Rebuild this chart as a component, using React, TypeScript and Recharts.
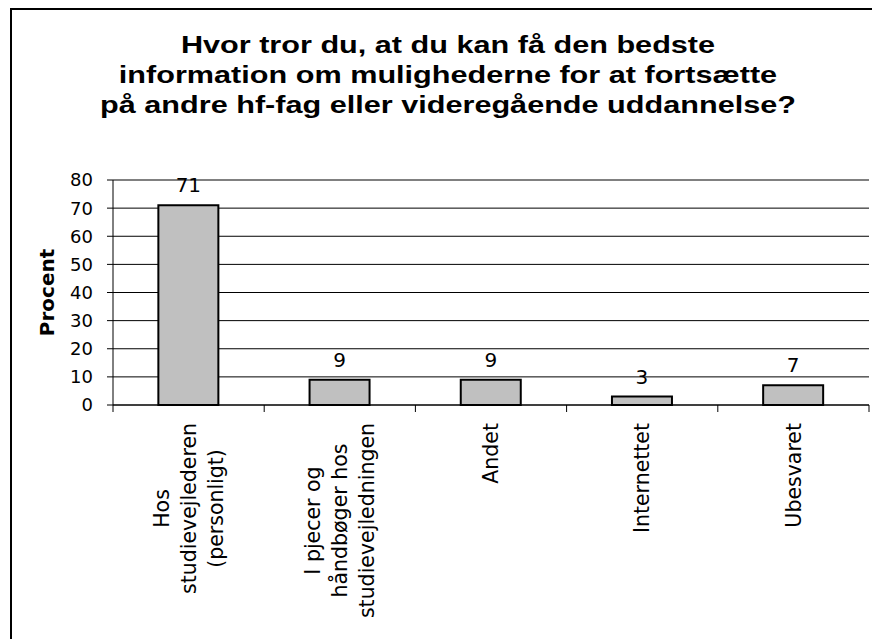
import React from 'react';
import { BarChart, Bar, XAxis, YAxis, CartesianGrid, LabelList, ReferenceLine, Label } from 'recharts';

const titleLines = [
  'Hvor tror du, at du kan få den bedste',
  'information om mulighederne for at fortsætte',
  'på andre hf-fag eller videregående uddannelse?',
];

// each category label is split into the lines it is drawn on
const categories = [
  ['Hos', 'studievejlederen', '(personligt)'],
  ['I pjecer og', 'håndbøger hos', 'studievejledningen'],
  ['Andet'],
  ['Internettet'],
  ['Ubesvaret'],
];
const percentages = [71, 9, 9, 3, 7];
const yTicks = [0, 10, 20, 30, 40, 50, 60, 70, 80];
const yLabel = 'Procent';

const data = categories.map((lines, i) => ({ name: lines.join('\n'), value: percentages[i] }));

const CHART_W = 860;
const CHART_H = 629;
const Y_AXIS_W = 101;
const MARGIN = { top: 170, right: 3, bottom: 0, left: 0 };
const PLOT_W = CHART_W - MARGIN.left - MARGIN.right - Y_AXIS_W;
const BAND = PLOT_W / categories.length;

const FONT = '"DejaVu Sans", Verdana, sans-serif';
const LABEL_SIZE = 20.5;
const LINE_GAP = 27;
const LABEL_TOP = 18;

let ctx: CanvasRenderingContext2D | null = null;
const measure = (t: string) => {
  if (!ctx) ctx = document.createElement('canvas').getContext('2d');
  if (!ctx) return t.length * LABEL_SIZE * 0.55;
  ctx.font = `${LABEL_SIZE}px "DejaVu Sans"`;
  return ctx.measureText(t).width;
};

const CategoryTick = (props: any) => {
  const { x, y, payload, index } = props;
  const lines = String(payload.value).split('\n');
  const half = payload.offset ? payload.offset : BAND / 2;
  const longest = Math.max(...lines.map(measure));
  const cy = y + LABEL_TOP + longest / 2;
  const last = index === categories.length - 1;
  return (
    <g>
      <line x1={x - half} y1={y} x2={x - half} y2={y + 7} stroke="#000" />
      {last && <line x1={x + half} y1={y} x2={x + half} y2={y + 7} stroke="#000" />}
      {lines.map((line, i) => (
        <text
          key={i}
          transform={`translate(${x + (i - (lines.length - 1) / 2) * LINE_GAP}, ${cy}) rotate(-90)`}
          textAnchor="middle"
          dy="0.35em"
          fontSize={LABEL_SIZE}
          fontFamily={FONT}
          fill="#000"
        >
          {line}
        </text>
      ))}
    </g>
  );
};

const ProcentLabel = (props: any) => {
  const vb = props.viewBox || { x: 0, y: MARGIN.top, height: 225 };
  return (
    <text
      transform={`translate(${vb.x + 35}, ${vb.y + vb.height / 2}) rotate(-90)`}
      textAnchor="middle"
      dy="0.36em"
      fontSize={20}
      fontWeight="bold"
      fontFamily={FONT}
      fill="#000"
    >
      {yLabel}
    </text>
  );
};

const App: React.FC = () => {
  return (
    <div
      style={{
        position: 'fixed',
        left: 10,
        top: 8,
        width: 862,
        height: 631,
        borderLeft: '2px solid #000',
        borderTop: '2px solid #000',
        boxSizing: 'border-box',
        background: '#fff',
      }}
    >
      <BarChart width={CHART_W} height={CHART_H} data={data} margin={MARGIN} barCategoryGap="30%">
        <CartesianGrid vertical={false} stroke="#000" />
        <XAxis
          dataKey="name"
          height={CHART_H - MARGIN.top - MARGIN.bottom - 225}
          interval={0}
          tickSize={0}
          tickMargin={0}
          tickLine={false}
          axisLine={{ stroke: '#000' }}
          tick={<CategoryTick />}
        />
        <YAxis
          domain={[0, 80]}
          ticks={yTicks}
          interval={0}
          width={Y_AXIS_W}
          tickSize={6}
          tickMargin={14}
          axisLine={{ stroke: '#000' }}
          tickLine={{ stroke: '#000' }}
          tick={{ fill: '#000', fontSize: 18, fontFamily: FONT }}
        >
          <Label content={<ProcentLabel />} />
        </YAxis>
        <YAxis
          yAxisId="frame"
          orientation="right"
          domain={[0, 80]}
          width={0}
          tick={false}
          tickLine={false}
          axisLine={{ stroke: '#808080', strokeWidth: 2 }}
        />
        <ReferenceLine y={80} stroke="#808080" strokeWidth={2} />
        <Bar dataKey="value" fill="#C0C0C0" stroke="#000" strokeWidth={2} isAnimationActive={false}>
          <LabelList dataKey="value" position="top" offset={13} fill="#000" fontSize={20} fontFamily={FONT} />
        </Bar>
      </BarChart>
      <svg width={CHART_W} height={130} style={{ position: 'absolute', left: 0, top: 0, pointerEvents: 'none' }}>
        {titleLines.map((line, i) => (
          <text
            key={i}
            transform={`translate(436, ${43 + i * 30}) scale(1.24, 1)`}
            textAnchor="middle"
            fontSize={24.7}
            fontWeight="bold"
            fontFamily='"Liberation Sans", Arial, sans-serif'
            fill="#000"
          >
            {line}
          </text>
        ))}
      </svg>
    </div>
  );
};

export default App;
